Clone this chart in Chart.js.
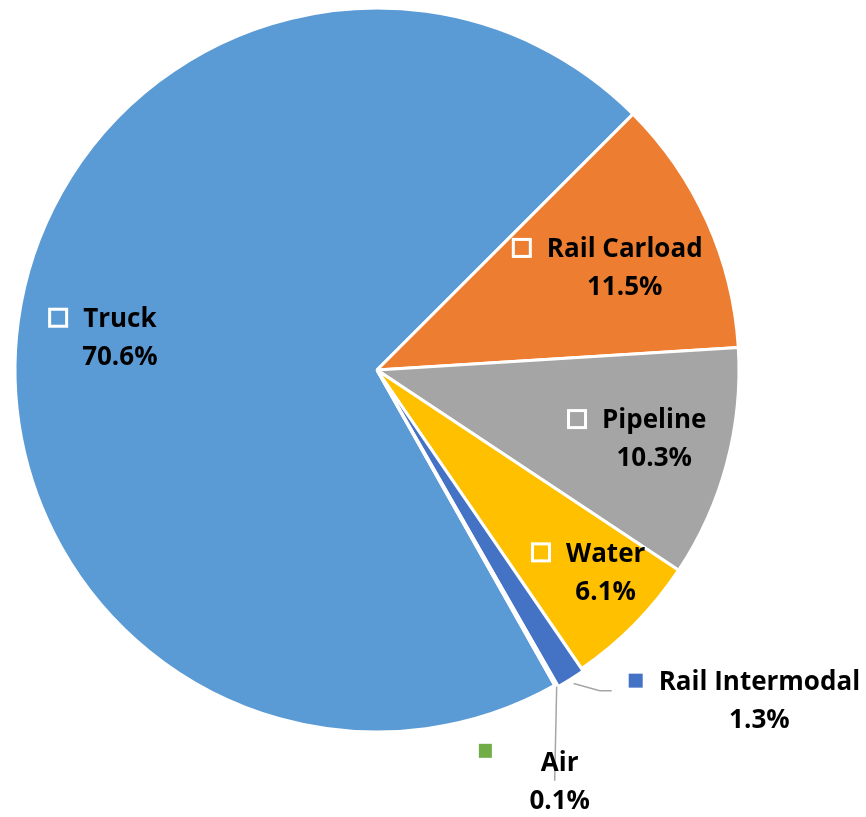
<!DOCTYPE html>
<html>
<head>
<meta charset="utf-8">
<script src="https://cdn.jsdelivr.net/npm/chart.js@4.4.0/dist/chart.umd.min.js"></script>
<style>
  html, body { margin: 0; padding: 0; background: #fff; }
  canvas { display: block; }
</style>
</head>
<body>
<canvas id="chart" width="866" height="817"></canvas>
<script>
// Dados do gráfico
const categories = ['Truck', 'Rail Carload', 'Pipeline', 'Water', 'Rail Intermodal', 'Air'];
const shares = [70.6, 11.5, 10.3, 6.1, 1.3, 0.1];
const sliceColors = ['#5B9BD5', '#ED7D31', '#A5A5A5', '#FFC000', '#4472C4', '#70AD47'];

// Posição dos rótulos: fração do raio ao longo da bissetriz + ajuste em px
const labelRadius = [0.717, 0.74, 0.79, 0.84, 1, 1];
const labelNudge = [[0, 2], [3.5, 7], [1, -6], [12, -12], [190, 23], [4, 96]];
const insideLabel = [true, true, true, true, false, false];

const FONT = 'bold 26px "Open Sans", Lato, sans-serif';
const LINE_GAP = 19;
const TEXT_SHIFT = 2; // Open Sans fica um pouco alta com baseline 'middle'

// Plugin que desenha os rótulos no estilo do Excel
const dataLabels = {
    id: 'dataLabels',
    afterDatasetsDraw(chart) {
        const ctx = chart.ctx;
        const meta = chart.getDatasetMeta(0);
        ctx.save();
        ctx.font = FONT;
        ctx.textAlign = 'center';
        ctx.textBaseline = 'middle';

        meta.data.forEach((arc, i) => {
            const p = arc.getProps(['x', 'y', 'startAngle', 'endAngle', 'outerRadius'], true);
            const mid = (p.startAngle + p.endAngle) / 2;
            const r = p.outerRadius * labelRadius[i];
            const cx = p.x + Math.cos(mid) * r + labelNudge[i][0];
            const cy = p.y + Math.sin(mid) * r + labelNudge[i][1];
            const name = categories[i];
            const pct = shares[i].toFixed(1) + '%';
            const nameW = ctx.measureText(name).width;
            const textLeft = cx - nameW / 2;
            const y1 = cy - LINE_GAP;
            const y2 = cy + LINE_GAP;

            // linhas de chamada para os rótulos externos
            if (!insideLabel[i]) {
                const edge = p.outerRadius + (i === 4 ? 8 : 2);
                const sx = p.x + Math.cos(mid) * edge;
                const sy = p.y + Math.sin(mid) * edge;
                ctx.strokeStyle = '#A6A6A6';
                ctx.lineWidth = 1.5;
                ctx.beginPath();
                ctx.moveTo(sx, sy);
                if (i === 4) {
                    const mLeft = textLeft - 30;
                    ctx.lineTo(mLeft - 29, cy - 9);
                    ctx.lineTo(mLeft - 17, cy - 9);
                } else {
                    ctx.lineTo(cx - 5, cy);
                }
                ctx.stroke();
            }

            // marcador (chave da legenda)
            if (insideLabel[i]) {
                ctx.strokeStyle = '#fff';
                ctx.lineWidth = 3;
                ctx.strokeRect(textLeft - 15 - 18.5, y1 - 8.5, 17, 17);
            } else if (i === 4) {
                ctx.fillStyle = sliceColors[i];
                ctx.fillRect(textLeft - 16 - 14, y1 - 7, 14, 14);
            } else {
                ctx.fillStyle = sliceColors[i];
                ctx.fillRect(textLeft - 49 - 13, y1 - 18, 13, 14);
            }

            ctx.fillStyle = '#000';
            ctx.fillText(name, cx, y1 + TEXT_SHIFT);
            ctx.fillText(pct, cx, y2 + TEXT_SHIFT);
        });
        ctx.restore();
    }
};

new Chart(document.getElementById('chart').getContext('2d'), {
    type: 'pie',
    data: {
        labels: categories,
        datasets: [{
            data: shares,
            backgroundColor: sliceColors,
            borderColor: '#fff',
            borderWidth: 3,
            offset: [0, 0, 0, 0, 6, 0],
            radius: 362
        }]
    },
    options: {
        responsive: false,
        animation: false,
        events: [],
        rotation: 150.6,
        layout: { padding: { left: 0, right: 112, top: 0, bottom: 77 } },
        plugins: {
            legend: { display: false },
            tooltip: { enabled: false }
        }
    },
    plugins: [dataLabels]
});
</script>
</body>
</html>
